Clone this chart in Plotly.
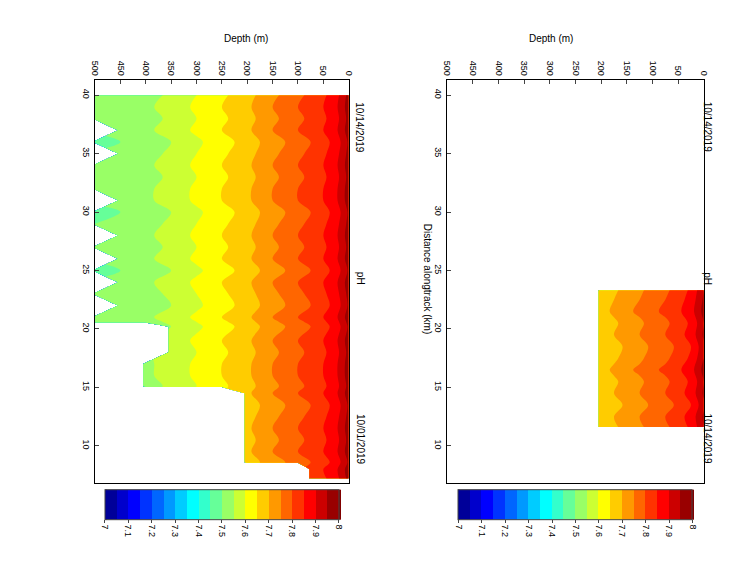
import numpy as np
import plotly.graph_objects as go

# pH profile by depth
depth = [0, 10, 25, 50, 75, 100, 125, 150, 175, 200, 250, 300, 350, 400, 450, 500]
ph_profile = [7.97, 7.93, 7.88, 7.84, 7.81, 7.79, 7.76, 7.74, 7.71, 7.68, 7.64, 7.6, 7.56, 7.53, 7.51, 7.5]

# left panel (10/01 - 10/14): distance along track and max cast depth
dist_a = [7.2, 8.0, 8.6, 9.5, 10.5, 11.5, 12.5, 13.5, 14.5, 15.1, 16, 17, 18, 19, 20.2, 20.6, 21, 22, 23, 24, 25, 26, 27, 28, 29, 30, 31, 32, 33, 34, 35, 36, 37, 38, 39, 40]
maxd_a = [95, 95, 205, 205, 210, 210, 205, 200, 205, 400, 400, 400, 395, 395, 390, 500, 500, 470, 500, 480, 500, 470, 500, 490, 500, 500, 480, 500, 500, 500, 490, 500, 470, 500, 500, 500]
off_a = [0.0, 0.01, -0.01, 0.01, 0.0, 0.01, 0.0, -0.01, 0.01, 0.0, 0.01, 0.01, 0.0, 0.01, -0.01, 0.0, 0.01, -0.01, 0.0, 0.01, -0.01, 0.01, 0.0, 0.01, 0.0, -0.01, 0.01, 0.01, 0.0, 0.01, 0.0, -0.01, 0.01, 0.0, 0.01, 0.0]

# right panel (10/14 only)
dist_b = [11.6, 12.5, 13.5, 14.5, 15.5, 16.5, 17.5, 18.5, 19.5, 20.5, 21.5, 22.5, 23.3]
maxd_b = [205, 205, 205, 205, 205, 205, 205, 205, 205, 205, 205, 205, 205]
off_b = [-0.02, -0.01, -0.03, -0.01, -0.02, 0.0, -0.02, -0.03, -0.01, -0.02, 0.0, -0.01, -0.02]

jet = [[0, 'rgb(0,0,128)'], [0.125, 'rgb(0,0,255)'], [0.375, 'rgb(0,255,255)'],
       [0.625, 'rgb(255,255,0)'], [0.875, 'rgb(255,0,0)'], [1, 'rgb(128,0,0)']]


def field(maxd, off):
    z = []
    for m, o in zip(maxd, off):
        z.append([p + o if d <= m else np.nan for d, p in zip(depth, ph_profile)])
    return z


def contour(dist, maxd, off, xa, ya, cbx):
    return go.Contour(
        x=depth, y=dist, z=field(maxd, off), xaxis=xa, yaxis=ya,
        colorscale=jet, zmin=7, zmax=8,
        contours=dict(start=7, end=8, size=0.05, coloring='fill', showlines=False),
        line_width=0, connectgaps=False,
        colorbar=dict(orientation='h', x=cbx, xanchor='center', len=0.34, y=0.062, yanchor='bottom',
                      thickness=30, outlinewidth=1, tickvals=[7, 7.1, 7.2, 7.3, 7.4, 7.5, 7.6, 7.7, 7.8, 7.9, 8],
                      ticktext=['7', '7.1', '7.2', '7.3', '7.4', '7.5', '7.6', '7.7', '7.8', '7.9', '8'],
                      tickangle=90, tickfont=dict(size=9), ticks='outside', ticklen=3),
    )


fig = go.Figure()
fig.add_trace(contour(dist_a, maxd_a, off_a, 'x', 'y', 0.28))
fig.add_trace(contour(dist_b, maxd_b, off_b, 'x2', 'y2', 0.754))

ax = dict(range=[500, 0], side='top', tickvals=[0, 50, 100, 150, 200, 250, 300, 350, 400, 450, 500],
          tickangle=90, tickfont=dict(size=9), ticks='inside', ticklen=4, showgrid=False,
          zeroline=False, showline=True, mirror=True, linecolor='black')
ay = dict(range=[6.8, 41.3], tickvals=[10, 15, 20, 25, 30, 35, 40], tickangle=90, tickfont=dict(size=9),
          ticks='inside', ticklen=4, showgrid=False, zeroline=False, showline=True, mirror=True,
          linecolor='black', domain=[0.175, 0.875])
fig.update_layout(
    width=756, height=576, margin=dict(l=0, r=0, t=0, b=0),
    paper_bgcolor='white', plot_bgcolor='white', font=dict(family='Liberation Sans', color='black'),
    xaxis=dict(ax, domain=[0.11, 0.45]), yaxis=dict(ay, anchor='x'),
    xaxis2=dict(ax, domain=[0.582, 0.926], anchor='y2'), yaxis2=dict(ay, anchor='x2'),
    showlegend=False,
)

ann = [dict(x=0.555, y=0.53, text='Distance alongtrack (km)', textangle=90)]
for x0, x1, bot in [(0.11, 0.45, '10/01/2019'), (0.582, 0.926, '10/14/2019')]:
    xm = (x0 + x1) / 2
    ann += [
        dict(x=xm, y=0.96, text='Depth (m)'),
        dict(x=x1 + 0.015, y=0.53, text='pH', textangle=90),
        dict(x=x1 + 0.015, y=0.84, text='10/14/2019', textangle=90),
        dict(x=x1 + 0.015, y=0.205, text=bot, textangle=90),
    ]
for a in ann:
    a.update(xref='paper', yref='paper', showarrow=False, font=dict(size=10))
fig.update_layout(annotations=ann)

fig.write_html("out.html")
